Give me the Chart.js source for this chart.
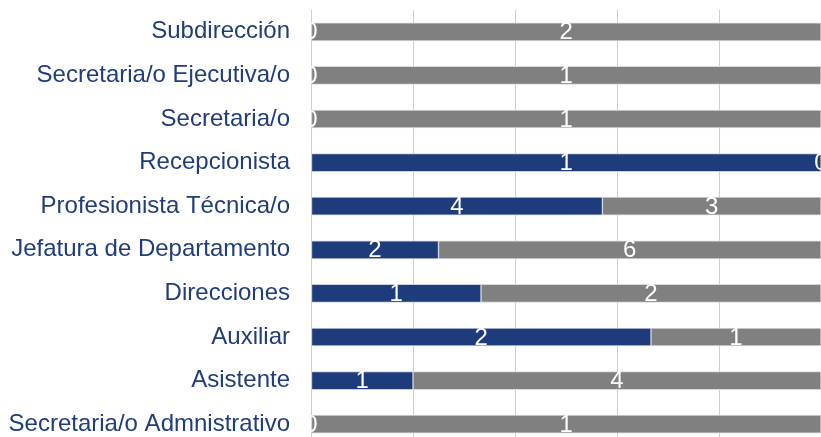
<!DOCTYPE html>
<html>
<head>
<meta charset="utf-8">
<script src="https://cdn.jsdelivr.net/npm/chart.js@4/dist/chart.umd.min.js"></script>
<style>
  html, body { margin: 0; padding: 0; background: #fff; overflow: hidden; }
  #wrap { position: absolute; left: 0; top: 0; width: 900px; height: 460px; }
</style>
</head>
<body>
<div id="wrap"><canvas id="chart"></canvas></div>
<script>
const categories = [
  'Subdirección',
  'Secretaria/o Ejecutiva/o',
  'Secretaria/o',
  'Recepcionista',
  'Profesionista Técnica/o',
  'Jefatura de Departamento',
  'Direcciones',
  'Auxiliar',
  'Asistente',
  'Secretaria/o Admnistrativo'
];
const blueCounts = [0, 0, 0, 1, 4, 2, 1, 2, 1, 0];
const grayCounts = [2, 1, 1, 0, 3, 6, 2, 1, 4, 1];
const xTicks = [0, 20, 40, 60, 80, 100];

// 100% stacked: share of each row
const toPct = (arr) => arr.map((v, i) => {
  const total = blueCounts[i] + grayCounts[i];
  return total ? v / total * 100 : 0;
});

const labelFont = "24px 'Liberation Sans', Arial, sans-serif";

// count labels centred in each segment, clipped to the plot area
const segmentLabels = {
  id: 'segmentLabels',
  afterDatasetsDraw(chart) {
    const ctx = chart.ctx;
    const area = chart.chartArea;
    ctx.save();
    ctx.beginPath();
    ctx.rect(area.left, area.top, area.right - area.left, area.bottom - area.top);
    ctx.clip();
    ctx.font = labelFont;
    ctx.fillStyle = '#ffffff';
    ctx.textAlign = 'center';
    ctx.textBaseline = 'middle';
    chart.data.datasets.forEach((ds, di) => {
      const meta = chart.getDatasetMeta(di);
      meta.data.forEach((bar, i) => {
        const cx = (bar.x + bar.base) / 2;
        ctx.fillText(String(ds.counts[i]), cx, bar.y + 1);
      });
    });
    ctx.restore();
  }
};

new Chart(document.getElementById('chart'), {
  type: 'bar',
  data: {
    labels: categories,
    datasets: [
      {
        label: 'Mujeres',
        data: toPct(blueCounts),
        counts: blueCounts,
        backgroundColor: '#1E3C7C',
        borderColor: '#c9cfdc',
        borderWidth: 1,
        borderSkipped: false,
        barThickness: 18
      },
      {
        label: 'Hombres',
        data: toPct(grayCounts),
        counts: grayCounts,
        backgroundColor: '#808080',
        borderColor: '#d9d9d9',
        borderWidth: 1,
        borderSkipped: false,
        barThickness: 18
      }
    ]
  },
  options: {
    indexAxis: 'y',
    responsive: true,
    maintainAspectRatio: false,
    animation: false,
    layout: {
      padding: { top: 10, right: 79, bottom: 14, left: 0 }
    },
    plugins: {
      legend: { display: false },
      tooltip: { enabled: false }
    },
    scales: {
      x: {
        stacked: true,
        min: 0,
        max: 100,
        afterBuildTicks: (scale) => {
          scale.ticks = xTicks.map(v => ({ value: v }));
        },
        afterFit: (scale) => {
          scale.height = 0;
          scale.paddingLeft = 0; scale.paddingRight = 0;
        },
        ticks: { display: false },
        border: { display: false },
        grid: {
          color: '#E4BCE4',
          lineWidth: 1,
          drawTicks: false
        }
      },
      y: {
        stacked: true,
        afterFit: (scale) => {
          scale.width = 311;
          scale.paddingTop = 0; scale.paddingBottom = 0;
        },
        border: { display: false },
        grid: { display: false, drawTicks: false },
        ticks: {
          padding: 21,
          color: '#1F3C7B',
          font: { family: "'Liberation Sans', Arial, sans-serif", size: 24 }
        }
      }
    }
  },
  plugins: [segmentLabels]
});
</script>
</body>
</html>
